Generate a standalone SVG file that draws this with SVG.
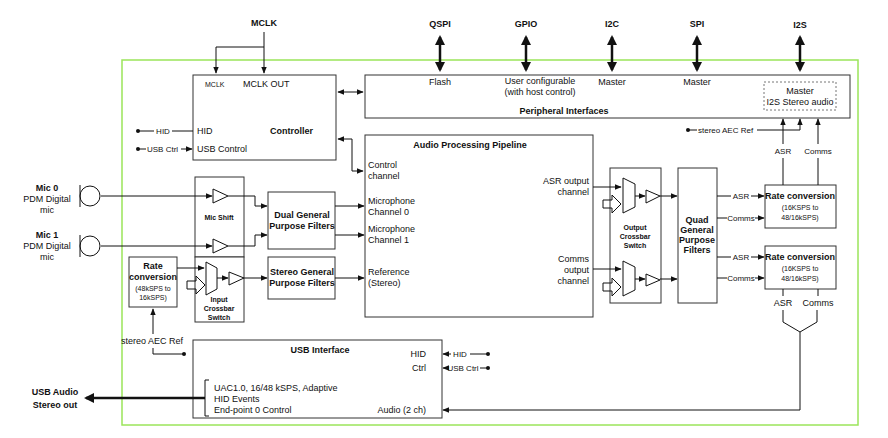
<svg xmlns="http://www.w3.org/2000/svg" width="888" height="438" viewBox="0 0 888 438">
<defs>
<style>
text{font-family:"Liberation Sans",Arial,sans-serif;font-size:9px;fill:#111}
.b{font-weight:bold}
.s{font-size:7px}
.c{font-size:8px}
.box{fill:#fff;stroke:#333;stroke-width:1}
.ln{fill:none;stroke:#111;stroke-width:1}
.thk{fill:none;stroke:#111;stroke-width:2.5}
.m{text-anchor:middle}
.e{text-anchor:end}
</style>
<marker id="a" viewBox="0 0 10 10" refX="9" refY="5" markerWidth="7" markerHeight="7" orient="auto-start-reverse"><path d="M0,1 L10,5 L0,9 z" fill="#111"/></marker>
<marker id="ta" viewBox="0 0 10 10" refX="8" refY="5" markerWidth="4" markerHeight="4" orient="auto-start-reverse"><path d="M0,0 L10,5 L0,10 z" fill="#111"/></marker>
<marker id="d" viewBox="0 0 10 10" refX="5" refY="5" markerWidth="5" markerHeight="5"><circle cx="5" cy="5" r="4" fill="#111"/></marker>
</defs>
<rect x="122" y="60" width="736" height="365" fill="none" stroke="#9be55a" stroke-width="1.5"/>

<g id="top-labels">
<text class="b m" x="264" y="26">MCLK</text>
<text class="b m" x="440" y="27">QSPI</text>
<text class="b m" x="526" y="27">GPIO</text>
<text class="b m" x="612" y="27">I2C</text>
<text class="b m" x="697" y="27">SPI</text>
<text class="b m" x="800" y="28">I2S</text>
</g>

<g id="controller">
<rect class="box" x="193" y="75" width="143" height="85"/>
<text class="s" x="205" y="87">MCLK</text>
<text x="243" y="87">MCLK OUT</text>
<text class="b" x="270" y="134">Controller</text>
<text x="197" y="134">HID</text>
<text x="197" y="152">USB Control</text>
</g>

<g id="peripheral">
<rect class="box" x="365" y="75" width="485" height="43"/>
<text class="m" x="440" y="85">Flash</text>
<text class="m" x="540" y="84">User configurable</text>
<text class="m" x="540" y="95">(with host control)</text>
<text class="m" x="612" y="85">Master</text>
<text class="m" x="697" y="85">Master</text>
<rect x="764" y="82" width="72" height="28" fill="none" stroke="#777" stroke-dasharray="2,2"/>
<text class="m" x="800" y="94">Master</text>
<text class="m" x="800" y="105">I2S Stereo audio</text>
<text class="b m" x="564" y="114">Peripheral Interfaces</text>
</g>

<g id="pipeline">
<rect class="box" x="365" y="135" width="228" height="182"/>
<text class="b m" x="470" y="148">Audio Processing Pipeline</text>
<text x="368" y="168">Control</text><text x="368" y="179">channel</text>
<text x="368" y="204">Microphone</text><text x="368" y="215">Channel 0</text>
<text x="368" y="232">Microphone</text><text x="368" y="243">Channel 1</text>
<text x="368" y="275">Reference</text><text x="368" y="286">(Stereo)</text>
<text class="e" x="589" y="184">ASR output</text><text class="e" x="589" y="195">channel</text>
<text class="e" x="589" y="262">Comms</text><text class="e" x="589" y="273">output</text><text class="e" x="589" y="284">channel</text>
</g>

<g id="output-crossbar">
<rect class="box" x="610" y="168" width="51" height="135"/>
<text class="b m s" x="635" y="230">Output</text><text class="b m s" x="635" y="239">Crossbar</text><text class="b m s" x="635" y="248">Switch</text>
<path class="ln" d="M623,178 L635,184 L635,207 L623,213 Z"/>
<path class="ln" d="M646,190 L660,196 L646,203 Z"/>
<path class="ln" d="M603,200 L612,200 L612,195 L621,204 L612,213 L612,208 L603,208 Z"/>
<path class="ln" d="M623,261 L635,267 L635,290 L623,296 Z"/>
<path class="ln" d="M646,274 L660,280 L646,286 Z"/>
<path class="ln" d="M603,283 L612,283 L612,278 L621,287 L612,296 L612,291 L603,291 Z"/>
</g>

<g id="quad">
<rect class="box" x="678" y="168" width="39" height="135"/>
<text class="b m" x="697" y="223">Quad</text><text class="b m" x="697" y="233">General</text><text class="b m" x="697" y="243">Purpose</text><text class="b m" x="697" y="253">Filters</text>
</g>

<g id="rate-asr">
<rect class="box" x="765" y="185" width="71" height="43"/>
<text class="b m" x="800" y="199">Rate conversion</text>
<text class="m s" x="800" y="210">(16KSPS to</text><text class="m s" x="800" y="220">48/16kSPS)</text>
</g>
<g id="rate-comms">
<rect class="box" x="765" y="246" width="71" height="43"/>
<text class="b m" x="800" y="260">Rate conversion</text>
<text class="m s" x="800" y="271">(16KSPS to</text><text class="m s" x="800" y="281">48/16kSPS)</text>
</g>

<g id="mic0">
<path class="ln" stroke-width="1.5" d="M80,185 L80,207"/>
<circle class="ln" stroke-width="1.5" cx="90" cy="196" r="10"/>
<text class="b m" x="47" y="191">Mic 0</text><text class="m" x="47" y="202">PDM Digital</text><text class="m" x="47" y="213">mic</text>
</g>
<g id="mic1">
<path class="ln" stroke-width="1.5" d="M80,235 L80,257"/>
<circle class="ln" stroke-width="1.5" cx="90" cy="246" r="10"/>
<text class="b m" x="47" y="238">Mic 1</text><text class="m" x="47" y="249">PDM Digital</text><text class="m" x="47" y="260">mic</text>
</g>

<g id="mic-shift">
<rect class="box" x="195" y="177" width="49" height="80"/>
<text class="b m s" x="219" y="220">Mic Shift</text>
<path class="ln" d="M213,189 L228,196 L213,203 Z"/>
<path class="ln" d="M213,239 L228,246 L213,253 Z"/>
</g>
<g id="input-crossbar">
<rect class="box" x="195" y="257" width="49" height="65"/>
<text class="b m s" x="219" y="302">Input</text><text class="b m s" x="219" y="311">Crossbar</text><text class="b m s" x="219" y="320">Switch</text>
<path class="ln" d="M206,262 L217,268 L217,289 L206,295 Z"/>
<path class="ln" d="M229,272 L244,278 L229,285 Z"/>
<path class="ln" d="M187,281 L196,281 L196,276 L205,285 L196,294 L196,289 L187,289 Z"/>
</g>

<g id="dual-filters">
<rect class="box" x="268" y="192" width="67" height="57"/>
<text class="b m" x="302" y="218">Dual General</text><text class="b m" x="302" y="229">Purpose Filters</text>
</g>
<g id="stereo-filters">
<rect class="box" x="268" y="257" width="67" height="42"/>
<text class="b m" x="302" y="275">Stereo General</text><text class="b m" x="302" y="286">Purpose Filters</text>
</g>
<g id="rate-in">
<rect class="box" x="129" y="257" width="48" height="50"/>
<text class="b m" x="153" y="269">Rate</text><text class="b m" x="153" y="280">conversion</text>
<text class="m s" x="153" y="291">(48kSPS to</text><text class="m s" x="153" y="300">16kSPS)</text>
</g>

<g id="usb">
<rect class="box" x="193" y="340" width="249" height="78"/>
<text class="b m" x="320" y="353">USB Interface</text>
<text class="e" x="426" y="357">HID</text>
<text class="e" x="426" y="371">Ctrl</text>
<text class="e" x="426" y="413">Audio (2 ch)</text>
<path class="ln" d="M209,380 L205,380 L205,416 L209,416"/>
<text x="214" y="391">UAC1.0, 16/48 kSPS, Adaptive</text>
<text x="214" y="402">HID Events</text>
<text x="214" y="413">End-point 0 Control</text>
<text class="b m" x="55" y="395">USB Audio</text><text class="b m" x="55" y="408">Stereo out</text>
</g>

<g id="connectors">
<path class="ln" d="M264,32 L264,73" marker-end="url(#a)"/>
<path class="ln" d="M264,47 L216,47 L216,73" marker-end="url(#a)"/>
<path class="thk" d="M440,37 L440,70" marker-start="url(#ta)" marker-end="url(#ta)"/>
<path class="thk" d="M526,37 L526,70" marker-start="url(#ta)" marker-end="url(#ta)"/>
<path class="thk" d="M612,37 L612,70" marker-start="url(#ta)" marker-end="url(#ta)"/>
<path class="thk" d="M697,37 L697,70" marker-start="url(#ta)" marker-end="url(#ta)"/>
<path class="thk" d="M800,37 L800,70" marker-start="url(#ta)" marker-end="url(#ta)"/>
<path class="ln" d="M338,92 L363,92" marker-start="url(#a)" marker-end="url(#a)"/>
<path class="ln" d="M338,139 L352,139 L352,171 L363,171" marker-start="url(#a)" marker-end="url(#a)"/>
<path class="ln" d="M138,131 L154,131 M172,131 L193,131" marker-start="url(#d)"/>
<text class="c m" x="163" y="134">HID</text>
<path class="ln" d="M138,149 L146,149" marker-start="url(#d)"/>
<text class="c" x="147" y="152">USB Ctrl</text>
<path class="ln" d="M181,149 L192,149" marker-end="url(#a)"/>
<path class="ln" d="M688,130 L697,130" marker-start="url(#d)"/>
<text class="c" x="698" y="133">stereo AEC Ref</text>
<path class="ln" d="M757,130 L800,130 L800,119" marker-end="url(#a)"/>
<path class="ln" d="M783,144 L783,119" marker-end="url(#a)"/>
<text class="c m" x="783" y="154">ASR</text>
<path class="ln" d="M783,158 L783,185"/>
<path class="ln" d="M818,144 L818,119" marker-end="url(#a)"/>
<text class="c m" x="818" y="154">Comms</text>
<path class="ln" d="M818,158 L818,185"/>
<path class="ln" d="M101,196 L212,196" marker-end="url(#a)"/>
<path class="ln" d="M101,246 L212,246" marker-end="url(#a)"/>
<path class="ln" d="M228,196 L255,196 L255,206 L267,206" marker-end="url(#a)"/>
<path class="ln" d="M228,246 L255,246 L255,235 L267,235" marker-end="url(#a)"/>
<path class="ln" d="M335,206 L364,206" marker-end="url(#a)"/>
<path class="ln" d="M335,235 L364,235" marker-end="url(#a)"/>
<path class="ln" d="M335,278 L364,278" marker-end="url(#a)"/>
<path class="ln" d="M177,268 L204,268" marker-end="url(#a)"/>
<path class="ln" d="M217,278 L228,278" marker-end="url(#a)"/>
<path class="ln" d="M244,278 L267,278" marker-end="url(#a)"/>
<path class="ln" d="M153,334 L153,309" marker-end="url(#a)"/>
<text class="m" x="152" y="344">stereo AEC Ref</text>
<path class="ln" d="M153,348 L153,354 L184,354" marker-end="url(#d)"/>
<path class="ln" d="M593,187 L621,187" marker-end="url(#a)"/>
<path class="ln" d="M635,196 L645,196" marker-end="url(#a)"/>
<path class="ln" d="M660,196 L677,196" marker-end="url(#a)"/>
<path class="ln" d="M593,269 L621,269" marker-end="url(#a)"/>
<path class="ln" d="M635,279 L645,279" marker-end="url(#a)"/>
<path class="ln" d="M660,279 L677,279" marker-end="url(#a)"/>
<path class="ln" d="M717,196 L731,196 M751,196 L764,196" marker-end="url(#a)"/>
<text class="c m" x="741" y="199">ASR</text>
<path class="ln" d="M717,218 L727,218 M755,218 L764,218" marker-end="url(#a)"/>
<text class="c m" x="741" y="221">Comms</text>
<path class="ln" d="M717,257 L731,257 M751,257 L764,257" marker-end="url(#a)"/>
<text class="c m" x="741" y="260">ASR</text>
<path class="ln" d="M717,278 L727,278 M755,278 L764,278" marker-end="url(#a)"/>
<text class="c m" x="741" y="281">Comms</text>
<path class="ln" d="M783,289 L783,296 M818,289 L818,296"/>
<text class="m" x="783" y="306">ASR</text>
<text class="m" x="818" y="306">Comms</text>
<path class="ln" d="M783,310 L783,322 L800,332 L817,322 L817,310 M800,332 L800,410 L443,410" marker-end="url(#a)"/>
<path class="ln" d="M488,354 L470,354" marker-start="url(#d)"/>
<text class="c m" x="460" y="357">HID</text>
<path class="ln" d="M451,354 L443,354" marker-end="url(#a)"/>
<path class="ln" d="M488,368 L480,368" marker-start="url(#d)"/>
<text class="c m" x="463" y="371">USB Ctrl</text>
<path class="ln" d="M447,368 L443,368" marker-end="url(#a)"/>
<path class="thk" d="M205,398 L86,398" stroke-width="2" marker-end="url(#ta)"/>
</g>
</svg>
